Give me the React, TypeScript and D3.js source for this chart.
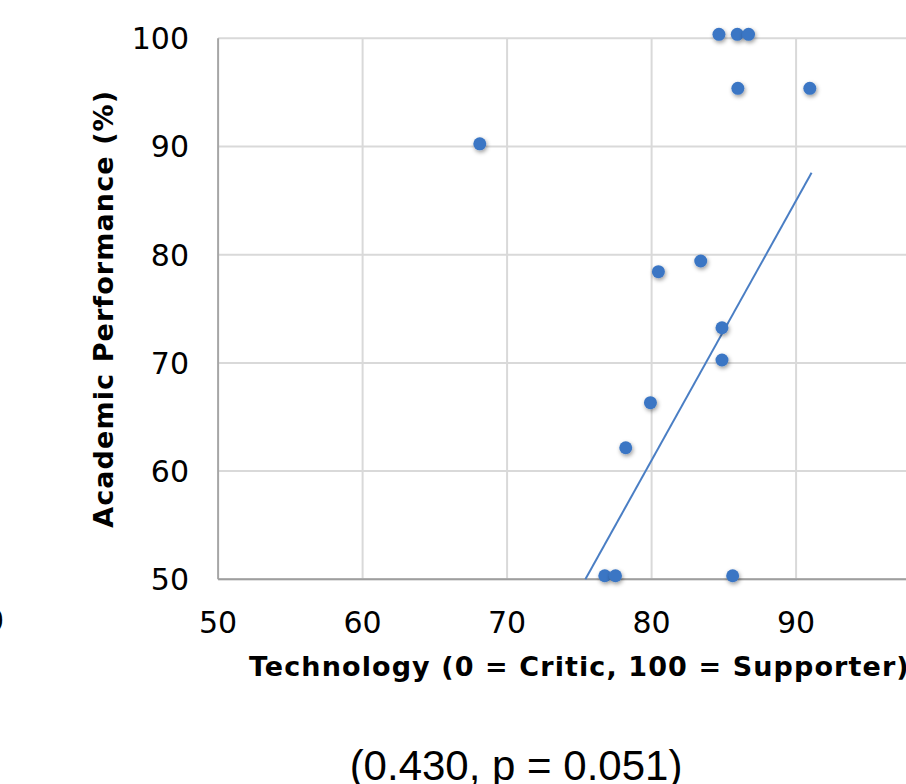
import React from "react";
import * as d3 from "d3";

const techScores = [84.66, 85.93, 86.71, 85.97, 90.95, 68.11, 80.47, 83.4, 84.87, 84.87, 79.92, 78.21, 76.76, 77.5, 85.61];
const performance = [100.37, 100.37, 100.37, 95.38, 95.38, 90.25, 78.43, 79.42, 73.25, 70.27, 66.32, 62.16, 50.33, 50.33, 50.33];
const xTicks = [50, 60, 70, 80, 90, 100];
const yTicks = [50, 60, 70, 80, 90, 100];
const trendSlope = 2.4;
const trendIntercept = -131.0;
const trendEnd = 91.07;
const caption = "(0.430, p = 0.051)";

const W = 906;
const H = 784;

export default function App() {
  const x = d3.scaleLinear().domain([50, 100]).range([218.1, 940.6]);
  const y = d3.scaleLinear().domain([50, 100]).range([579.3, 38.3]);

  const points = techScores.map((t, i) => ({ t, p: performance[i] }));

  // trend line runs from the y-axis floor up to the right end of the data
  const tStart = (50 - trendIntercept) / trendSlope;
  const trend = d3
    .line<number>()
    .x(d => x(d))
    .y(d => y(trendSlope * d + trendIntercept))([tStart, trendEnd]);

  const tickFont = { fontFamily: "DejaVu Sans", fontSize: 30, fill: "#000" };
  const titleFont = { fontFamily: "DejaVu Sans", fontSize: 27, fontWeight: 700, letterSpacing: 1.1, fill: "#000" };

  return (
    <svg width={W} height={H} style={{ position: "absolute", left: 0, top: 0, background: "#fff" }}>
      <defs>
        <filter id="shadow" x="-50%" y="-50%" width="200%" height="200%">
          <feDropShadow dx="1" dy="2" stdDeviation="2" floodColor="#000" floodOpacity="0.4" />
        </filter>
      </defs>
      <rect width={W} height={H} fill="#fff" />

      {/* grid */}
      {yTicks.map(v => (
        <line key={"gy" + v} x1={x(50)} x2={x(100)} y1={y(v)} y2={y(v)} stroke="#d9d9d9" strokeWidth={2} />
      ))}
      {xTicks.slice(1).map(v => (
        <line key={"gx" + v} x1={x(v)} x2={x(v)} y1={y(100)} y2={y(50)} stroke="#d9d9d9" strokeWidth={2} />
      ))}

      {/* axes */}
      <line x1={x(50)} x2={x(50)} y1={y(100)} y2={y(50)} stroke="#a6a6a6" strokeWidth={2} />
      <line x1={x(50)} x2={x(100)} y1={y(50)} y2={y(50)} stroke="#9e9e9e" strokeWidth={2} />

      {/* tick labels */}
      {yTicks.map(v => (
        <text key={"ty" + v} x={189} y={y(v)} dy="0.36em" textAnchor="end" {...tickFont}>
          {v}
        </text>
      ))}
      {xTicks.map(v => (
        <text key={"tx" + v} x={x(v)} y={633} textAnchor="middle" {...tickFont}>
          {v}
        </text>
      ))}
      {/* edge of the neighbouring chart's label */}
      <text x={4} y={631} textAnchor="end" {...tickFont}>100</text>

      {/* trend line */}
      <path d={trend ?? ""} fill="none" stroke="#4a7ec4" strokeWidth={2} />

      {/* points */}
      {points.map((d, i) => (
        <circle key={i} cx={x(d.t)} cy={y(d.p)} r={6.5} fill="#3b76c4" filter="url(#shadow)" />
      ))}

      {/* axis titles */}
      <text x={(x(50) + x(100)) / 2} y={676} textAnchor="middle" {...titleFont}>
        Technology (0 = Critic, 100 = Supporter)
      </text>
      <text
        transform={`translate(113, ${(y(50) + y(100)) / 2}) rotate(-90)`}
        textAnchor="middle"
        {...titleFont}
      >
        Academic Performance (%)
      </text>

      <text x={516} y={780} textAnchor="middle" fontFamily="Liberation Sans, Arial" fontSize={42} fill="#000">
        {caption}
      </text>
    </svg>
  );
}
